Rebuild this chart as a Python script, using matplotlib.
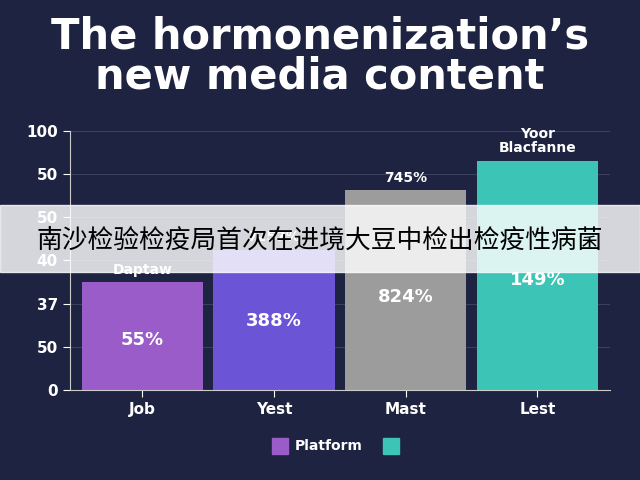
import matplotlib
matplotlib.use("Agg")
import matplotlib.pyplot as plt
from matplotlib.patches import Rectangle

plt.rcParams['font.family'] = ['DejaVu Sans', 'Noto Sans CJK SC']

categories = ["Job", "Yest", "Mast", "Lest"]
values = [2.49, 3.25, 4.62, 5.31]
top_labels = ["Daptaw", "7257%", "745%", "Yoor\nBlacfanne"]
inner_labels = ["55%", "388%", "824%", "149%"]
inner_pos = [1.15, 1.6, 2.15, 2.54]
colors = ["#9a5cc8", "#6b55d6", "#9c9c9c", "#3cc4b6"]
ytick_labels = ["0", "50", "37", "40", "50", "50", "100"]
bg = "#1d2340"

fig = plt.figure(figsize=(6.4, 4.8), dpi=100, facecolor=bg)
ax = fig.add_axes([0.109, 0.1875, 0.844, 0.54])
ax.set_facecolor(bg)
x = range(len(categories))
bars = ax.bar(x, values, width=0.92, color=colors)
ax.set_xlim(-0.55, 3.55)
ax.set_ylim(0, 6)
ax.set_yticks(range(7))
ax.set_yticklabels(ytick_labels, color="white", fontsize=11, fontweight="bold")
ax.set_xticks(list(x))
ax.set_xticklabels(categories, color="white", fontsize=11, fontweight="bold")
ax.tick_params(colors="white", length=5)
for s in ["top", "right"]:
    ax.spines[s].set_visible(False)
for s in ["left", "bottom"]:
    ax.spines[s].set_color("#cccccc")
ax.grid(axis="y", color="#3a4060", linewidth=0.8)
ax.set_axisbelow(True)
for i, b in enumerate(bars):
    ax.text(i, values[i] + 0.12, top_labels[i], ha="center", va="bottom",
            color="white", fontsize=10, fontweight="bold", linespacing=1.0)
    ax.text(i, inner_pos[i], inner_labels[i],
            ha="center", va="center", color="white", fontsize=13, fontweight="bold")

fig.text(0.5, 0.882, "The hormonenization’s\nnew media content", ha="center",
         va="center", color="white", fontsize=30, fontweight="bold", linespacing=0.95)

# legend
fig.patches.append(Rectangle((0.425, 0.055), 0.025, 0.032, transform=fig.transFigure, color=colors[0]))
fig.text(0.46, 0.071, "Platform", color="white", fontsize=10, fontweight="bold", va="center")
fig.patches.append(Rectangle((0.598, 0.055), 0.025, 0.032, transform=fig.transFigure, color=colors[3]))

# banner
fig.patches.append(Rectangle((0, 0.433), 1, 0.14, transform=fig.transFigure,
                             color="white", alpha=0.82, zorder=10))
fig.text(0.5, 0.497, "南沙检验检疫局首次在进境大豆中检出检疫性病菌", ha="center", va="center",
         color="black", fontsize=18.5, family=["Noto Sans CJK SC", "DejaVu Sans"], zorder=11)

fig.savefig("out.png", dpi=100, facecolor=bg)
